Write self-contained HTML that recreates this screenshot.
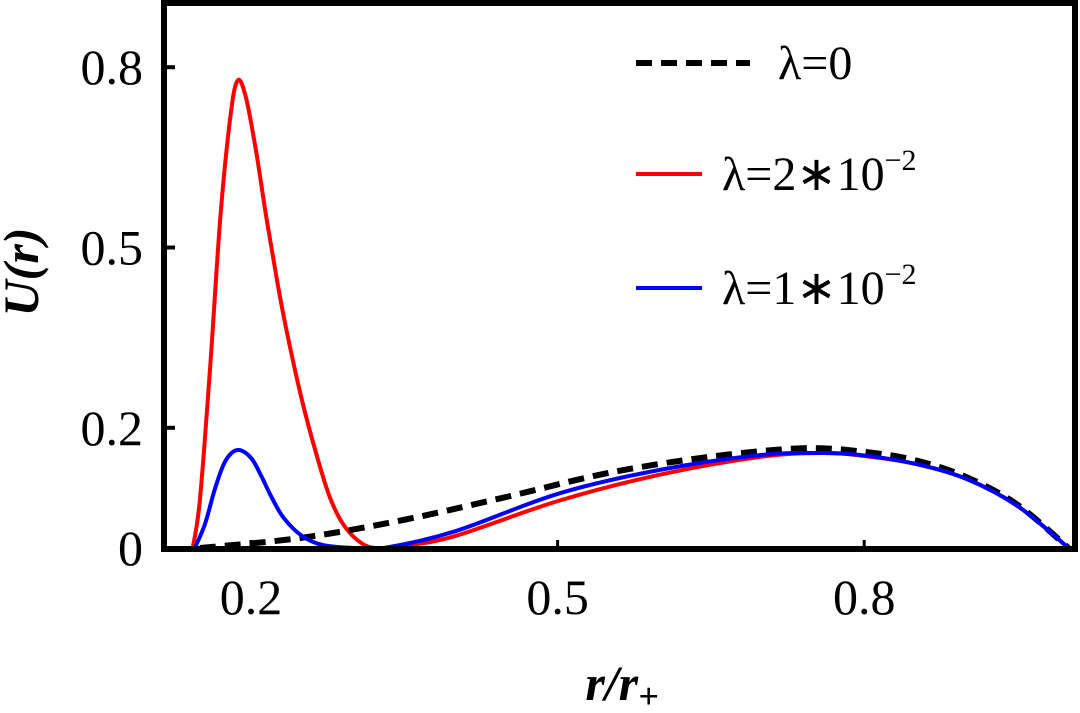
<!DOCTYPE html>
<html><head><meta charset="utf-8"><style>
body{margin:0;background:#fff}
svg text{font-family:"Liberation Serif",serif}
</style></head><body>
<svg width="1080" height="708" viewBox="0 0 1080 708">
<g id="plot"></g>
<rect x="164" y="3" width="911" height="546" fill="none" stroke="#000" stroke-width="6"/>
<g id="ticks"></g>
<text x="38" y="272" font-size="50" font-weight="bold" font-style="italic" text-anchor="middle" transform="rotate(-90 38 272)">U(r)</text>
<text x="622" y="700" font-size="50" font-weight="bold" font-style="italic" text-anchor="middle">r/r<tspan font-size="36" dy="8">+</tspan></text>
<g>
<line x1="636" y1="63" x2="750" y2="63" stroke="#000" stroke-width="6" stroke-dasharray="16,9"/>
<text x="778" y="79" font-size="48">λ=0</text>
<line x1="636" y1="174" x2="702" y2="174" stroke="#f00" stroke-width="4"/>
<text x="722" y="190" font-size="48">λ=2∗10<tspan font-size="30" dy="-20">−2</tspan></text>
<line x1="636" y1="288" x2="702" y2="288" stroke="#00f" stroke-width="4"/>
<text x="722" y="304" font-size="48">λ=1∗10<tspan font-size="30" dy="-20">−2</tspan></text>
</g>
</svg>
<script>
const xTicks=[0.2,0.5,0.8];
const xTickLabels=["0.2","0.5","0.8"];
const yTicks=[0,0.2,0.5,0.8];
const yTickLabels=["0","0.2","0.5","0.8"];
const redX=[0.143,0.150,0.160,0.170,0.180,0.187,0.195,0.205,0.215,0.225,0.235,0.250,0.265,0.277,0.290,0.305,0.321,0.350,0.400,0.500,0.600,0.700,0.760,0.800,0.850,0.900,0.950,1.0];
const redY=[0,0.08,0.30,0.55,0.72,0.778,0.75,0.66,0.55,0.45,0.36,0.245,0.15,0.085,0.04,0.012,0,0.004,0.02,0.078,0.122,0.152,0.158,0.153,0.14,0.115,0.07,0];
const blueX=[0.145,0.155,0.165,0.175,0.187,0.200,0.210,0.220,0.232,0.250,0.270,0.300,0.330,0.400,0.500,0.600,0.700,0.760,0.800,0.850,0.900,0.950,1.0];
const blueY=[0,0.04,0.10,0.145,0.163,0.15,0.12,0.085,0.05,0.02,0.005,0,0,0.028,0.09,0.13,0.155,0.158,0.154,0.14,0.115,0.07,0];
const blackX=[0.15,0.25,0.35,0.45,0.55,0.65,0.74,0.80,0.85,0.90,0.95,1.0];
const blackY=[0,0.017,0.047,0.085,0.125,0.152,0.166,0.16,0.146,0.118,0.072,0];
const sx=v=>251+(v-0.2)*1022;
const sy=v=>548-v*601;
const NS="http://www.w3.org/2000/svg";
function pathD(xs,ys){
  const p=xs.map((x,i)=>[sx(x),sy(ys[i])]);
  let d="M"+p[0][0]+","+p[0][1];
  for(let i=0;i<p.length-1;i++){
    const p0=p[i-1]||p[i],p1=p[i],p2=p[i+1],p3=p[i+2]||p2;
    const c1=[p1[0]+(p2[0]-p0[0])/6,p1[1]+(p2[1]-p0[1])/6];
    const c2=[p2[0]-(p3[0]-p1[0])/6,p2[1]-(p3[1]-p1[1])/6];
    d+=" C"+c1+" "+c2+" "+p2;
  }
  return d;
}
const plot=document.getElementById('plot');
function addLine(xs,ys,color,w,dash,name){
  const el=document.createElementNS(NS,'path');
  el.setAttribute('d',pathD(xs,ys));
  el.setAttribute('fill','none');el.setAttribute('stroke',color);el.setAttribute('stroke-width',w);
  if(dash)el.setAttribute('stroke-dasharray',dash);
  
  
  plot.appendChild(el);
}
addLine(redX,redY,'#f00',4,null,'series-lambda-2e-2');
addLine(blackX,blackY,'#000',6,'16,9','series-lambda-0');
addLine(blueX,blueY,'#00f',4,null,'series-lambda-1e-2');
const tg=document.getElementById('ticks');
xTicks.forEach((v,i)=>{
  const t=document.createElementNS(NS,'text');
  t.setAttribute('x',sx(v));t.setAttribute('y',614);t.setAttribute('font-size','50');t.setAttribute('text-anchor','middle');
  t.textContent=xTickLabels[i];
  
  
  tg.appendChild(t);
  const l=document.createElementNS(NS,'line');
  l.setAttribute('x1',sx(v));l.setAttribute('x2',sx(v));l.setAttribute('y1',548);l.setAttribute('y2',540);l.setAttribute('stroke','#000');l.setAttribute('stroke-width',3);
  
  
  tg.appendChild(l);
});
yTicks.forEach((v,i)=>{
  const t=document.createElementNS(NS,'text');
  t.setAttribute('x',143);t.setAttribute('y',sy(v)+17);t.setAttribute('font-size','50');t.setAttribute('text-anchor','end');
  t.textContent=yTickLabels[i];
  
  
  tg.appendChild(t);
  const l=document.createElementNS(NS,'line');
  l.setAttribute('x1',166);l.setAttribute('x2',175);l.setAttribute('y1',sy(v));l.setAttribute('y2',sy(v));l.setAttribute('stroke','#000');l.setAttribute('stroke-width',4);
  
  
  tg.appendChild(l);
});
</script>
</body></html>
